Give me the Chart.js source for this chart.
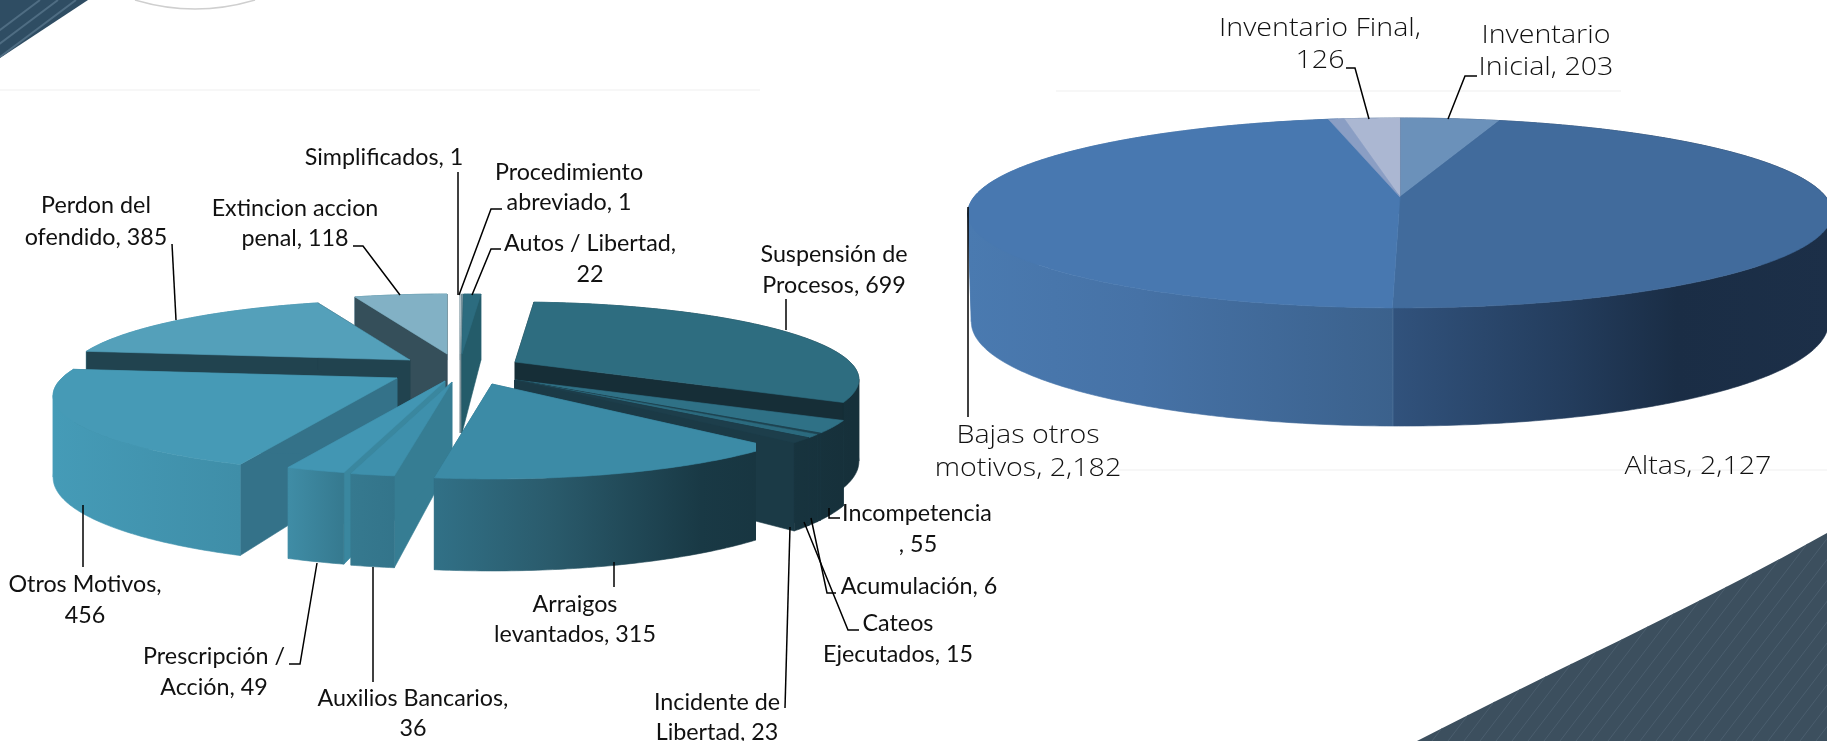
<!DOCTYPE html>
<html><head><meta charset="utf-8">
<script src="https://cdn.jsdelivr.net/npm/chart.js@4/dist/chart.umd.min.js"></script>
<style>
html,body{margin:0;padding:0;background:#fff;overflow:hidden}
#stage{position:relative;width:1827px;height:741px;overflow:hidden}
#stage svg,#stage canvas{position:absolute;left:0;top:0}
</style></head><body>
<div id="stage">
<svg width="1827" height="741" viewBox="0 0 1827 741">
<defs>
<clipPath id="br"><path d="M1827 533 C1690 610 1550 672 1417 741 L1827 741 Z"/></clipPath>
<clipPath id="tl"><path d="M0 0 L88 0 L0 58 Z"/></clipPath>
</defs>
<path d="M0 90 H760 M1056 91 H1621 M1118 470 H1827" stroke="#f7f7f7" stroke-width="2" fill="none"/>
<path d="M1827 533 C1690 610 1550 672 1417 741 L1827 741 Z" fill="#3c4f5e"/>
<g clip-path="url(#br)" stroke="#4b5e6e" stroke-width="1" id="brs"></g>
<path d="M0 0 L88 0 L0 58 Z" fill="#2f4d63"/>
<g clip-path="url(#tl)" stroke="#4f6d83" stroke-width="2" id="tls"></g>
<path d="M135 0 Q195 18 255 0" fill="none" stroke="#cfcfcf" stroke-width="1.5"/>
</svg>
<canvas id="left" width="1827" height="741"></canvas>
<canvas id="right" width="1827" height="741"></canvas>
</div>
<script>
// ---------- left pie data ----------
const leftCategories = ["Simplificados","Procedimiento abreviado","Autos / Libertad","Suspensión de Procesos","Incompetencia","Acumulación","Cateos Ejecutados","Incidente de Libertad","Arraigos levantados","Auxilios Bancarios","Prescripción / Acción","Otros Motivos","Perdon del ofendido","Extincion accion penal"];
const leftValues = [1,1,22,699,55,6,15,23,315,36,49,456,385,118];
const leftTop  = ["#b4c4cb","#7d99a3","#2c6c7f","#2e6d80","#2f7186","#1f4452","#2b6a7e","#1d3e4b","#3c8ba6","#3e90ac","#4296b3","#469ab6","#54a0ba","#82b1c5"];
const leftSide = ["#9aa9af","#5f7a84","#245c6a","#162e37","#1b3a46","#1b3a46","#1b3a46","#1b3a46","#2a6a80","#367d93","#3a879f","#347289","#21434f","#354f5a"];
const leftShift = [[-12,-14],[-11,-14],[-10,-14],[43,-6],[43,12],[43,12],[43,12],[43,12],[20,16],[-20,14],[-27,13],[-75,10],[-62,-8],[-25,-14]];
const leftPaint = [13,0,1,2,12,3,11,4,5,6,7,10,9,8];
// ---------- right pie data ----------
const rightCategories = ["Inventario Inicial","Altas","Bajas otros motivos","Inventario Final"];
const rightValues = [203,2127,2182,126];
const rightTop  = ["#6b91ba","#416b9c","#4878b0","#abb7d2"];
const rightPaint = [0,3,1,2];
// ---------- text ----------
const leftLabels = [
 {t:"Perdon del",x:96,y:205},{t:"ofendido, 385",x:96,y:237},
 {t:"Extincion accion",x:295,y:208},{t:"penal, 118",x:295,y:238},
 {t:"Simplificados, 1",x:384,y:157},
 {t:"Procedimiento",x:569,y:172},{t:"abreviado, 1",x:569,y:202},
 {t:"Autos / Libertad,",x:590,y:243},{t:"22",x:590,y:274},
 {t:"Suspensión de",x:834,y:254},{t:"Procesos, 699",x:834,y:285},
 {t:"Incompetencia",x:917,y:513},{t:", 55",x:918,y:544},
 {t:"Acumulación, 6",x:919,y:586},
 {t:"Cateos",x:898,y:623},{t:"Ejecutados, 15",x:898,y:654},
 {t:"Incidente de",x:717,y:702},{t:"Libertad, 23",x:717,y:732},
 {t:"Arraigos",x:575,y:604},{t:"levantados, 315",x:575,y:634},
 {t:"Auxilios Bancarios,",x:413,y:698},{t:"36",x:413,y:728},
 {t:"Prescripción /",x:214,y:656},{t:"Acción, 49",x:214,y:687},
 {t:"Otros Motivos,",x:85,y:584},{t:"456",x:85,y:615}
];
const rightLabels = [
 {t:"Inventario Final,",x:1320,y:28},{t:"126",x:1320,y:60},
 {t:"Inventario",x:1546,y:35},{t:"Inicial, 203",x:1546,y:67},
 {t:"Bajas otros",x:1028,y:435},{t:"motivos, 2,182",x:1028,y:468},
 {t:"Altas, 2,127",x:1698,y:466}
];
const leftLeaders = [
 [[172,244],[176,320]],
 [[353,246],[363,246],[400,295]],
 [[458,172],[458,295]],
 [[502,209],[491,209],[459,295]],
 [[501,249],[491,249],[472,295]],
 [[786,299],[786,330]],
 [[83,505],[83,567]],
 [[289,664],[300,664],[317,563]],
 [[373,567],[373,682]],
 [[614,562],[614,587]],
 [[790,527],[785,708]],
 [[840,518],[829,518],[829,508]],
 [[836,593],[827,593],[811,518]],
 [[859,630],[848,630],[804,522]]
];
const rightLeaders = [
 [[1346,68],[1355,68],[1369,119]],
 [[1477,76],[1465,76],[1448,119]],
 [[968,207],[968,417]]
];

const pie3d = {
  id:'pie3d',
  beforeDatasetsDraw(chart,args,o){
    const ctx=chart.ctx, arcs=chart.getDatasetMeta(0).data;
    const grad=ctx.createLinearGradient(o.gx[0],0,o.gx[1],0);
    o.stops.forEach(s=>grad.addColorStop(s[0],s[1]));
    const proj=(el,i,u,v,z)=>{
      const sh=o.shift?o.shift[i]:[0,0], s=1/(1-o.p*v), k=1-o.shrink*z;
      return [el.x+sh[0]+o.rx*u*s*k, el.y+sh[1]+o.ry*v*s*k+z*(o.d0+o.d1*v)];
    };
    const rim=(el,i,a0,a1,z)=>{
      const n=Math.max(2,Math.ceil(Math.abs(a1-a0)/0.012)), pts=[];
      for(let k=0;k<=n;k++){const a=a0+(a1-a0)*k/n;pts.push(proj(el,i,Math.cos(a),Math.sin(a),z));}
      return pts;
    };
    const fill=(pts,c)=>{ctx.beginPath();pts.forEach((p,k)=>k?ctx.lineTo(p[0],p[1]):ctx.moveTo(p[0],p[1]));ctx.closePath();ctx.fillStyle=c;ctx.fill();ctx.strokeStyle=c;ctx.lineWidth=.6;ctx.stroke();};
    o.paint.forEach(i=>{
      const el=arcs[i], a0=el.startAngle, a1=el.endAngle;
      const top=rim(el,i,a0,a1,0), bot=rim(el,i,a0,a1,1);
      const c0=proj(el,i,0,0,0), c1=proj(el,i,0,0,1);
      // the outer wall is split where the rim turns, so each run is a simple polygon
      const outer=()=>{
        let from=0;
        for(let k=1;k<top.length;k++){
          const turn=k<top.length-1 && (top[k][0]-top[k-1][0])*(top[k+1][0]-top[k][0])<0;
          if(turn||k===top.length-1){
            fill(top.slice(from,k+1).concat(bot.slice(from,k+1).reverse()),grad);
            from=k;
          }
        }
      };
      const mid=(a0+a1)/2, back=Math.sin(mid)<-0.2;
      ctx.save();
      if(o.clipRight&&o.clipRight[i]){ctx.beginPath();ctx.rect(0,0,o.clipRight[i],chart.height);ctx.clip();}
      if(back)outer();
      if(o.side){
        fill([c0,top[0],bot[0],c1],o.side[i]);
        fill([c0,top[top.length-1],bot[bot.length-1],c1],o.side[i]);
      }
      if(!back)outer();
      fill([c0].concat(top),el.options.backgroundColor);
      ctx.restore();
    });
    if(o.sliver){
      const el=arcs[o.sliver.index],r=Math.PI/180;
      fill([proj(el,o.sliver.index,0,0,0)].concat(rim(el,o.sliver.index,el.startAngle-o.sliver.before*r,el.startAngle+o.sliver.after*r,0)),o.sliver.color);
    }
    return false;
  },
  afterDraw(chart,args,o){
    const ctx=chart.ctx;
    ctx.save();
    ctx.strokeStyle=o.leaderColor;ctx.lineWidth=o.leaderWidth;
    o.leaders.forEach(l=>{ctx.beginPath();l.forEach((p,k)=>k?ctx.lineTo(p[0],p[1]):ctx.moveTo(p[0],p[1]));ctx.stroke();});
    ctx.font=o.font;ctx.fillStyle=o.textColor;ctx.textAlign='center';ctx.textBaseline='middle';
    o.labels.forEach(l=>{
      ctx.save();ctx.translate(l.x,l.y);ctx.scale(o.textSX,1);ctx.fillText(l.t,0,0);ctx.restore();
    });
    ctx.restore();
  }
};
Chart.register(pie3d);
const base={responsive:false,animation:false,events:[],plugins:{legend:{display:false},tooltip:{enabled:false}}};
new Chart(document.getElementById('left'),{
  type:'pie',
  data:{labels:leftCategories,datasets:[{data:leftValues,backgroundColor:leftTop,borderWidth:0}]},
  options:{...base,layout:{padding:{left:0,right:883,top:0,bottom:5}},
   plugins:{...base.plugins,pie3d:{rx:335,ry:73.5,p:.226,d0:79,d1:13,shrink:0,shift:leftShift,side:leftSide,paint:leftPaint,clipRight:{8:756},
    gx:[54,853],stops:[[0,"#459bb7"],[.233,"#3f8ea8"],[.295,"#3f8ca5"],[.36,"#367a90"],[.48,"#317086"],[.62,"#2a5b6c"],[.81,"#193945"],[1,"#16303a"]],
    labels:leftLabels,leaders:leftLeaders,font:'23.3px Lato',textColor:'#111',textSX:1,leaderColor:'#000',leaderWidth:1.5}}}
});
new Chart(document.getElementById('right'),{
  type:'pie',
  data:{labels:rightCategories,datasets:[{data:rightValues,backgroundColor:rightTop,borderWidth:0}]},
  options:{...base,layout:{padding:{left:973,right:0,top:0,bottom:347}},
   plugins:{...base.plugins,pie3d:{rx:426,ry:92.3,p:.168,d0:107,d1:12,shrink:.008,paint:rightPaint,
    gx:[968,1832],stops:[[0,"#4a7ab0"],[.2,"#4672a6"],[.492,"#3b618c"],[.4935,"#31527c"],[.7,"#233c5c"],[.82,"#1a2d45"],[1,"#1c2f48"]],
    sliver:{index:3,before:1.5,after:1,color:"#8a9ec4"},
    labels:rightLabels,leaders:rightLeaders,font:'300 26.5px "Open Sans"',textColor:'#111',textSX:1.08,leaderColor:'#000',leaderWidth:1.5}}}
});
// decorative stripes of the page background
const NS='http://www.w3.org/2000/svg';
const deco=(id,n,step,x1,y1,x2,y2)=>{const g=document.getElementById(id);for(let k=0;k<n;k++){const l=document.createElementNS(NS,'line');l.setAttribute('x1',x1+k*step);l.setAttribute('y1',y1);l.setAttribute('x2',x2+k*step);l.setAttribute('y2',y2);g.appendChild(l);}};
deco('brs',40,16,1400,741,1600,480);
deco('tls',6,18,-40,60,40,0);
</script>
</body></html>
